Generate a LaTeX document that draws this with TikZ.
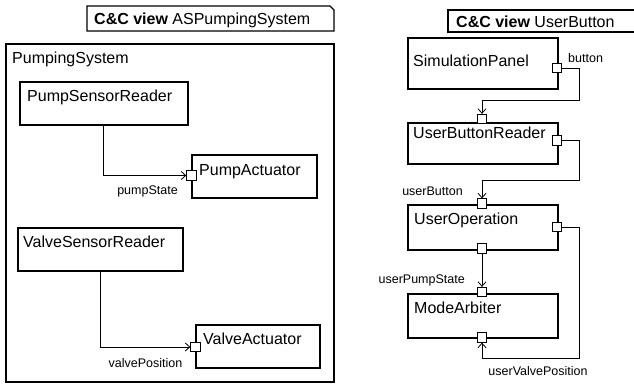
\documentclass[tikz,border=0pt]{standalone}
\usepackage{fontspec}
\setmainfont{Liberation Sans}
\usetikzlibrary{arrows.meta}
\begin{document}
\begin{tikzpicture}[x=1pt,y=-1pt,
  comp/.style={draw,line width=1.6pt,inner sep=0pt,anchor=north west},
  ctext/.style={anchor=base west,inner sep=0pt,font=\fontsize{16}{19}\selectfont},
  lbl/.style={inner sep=0pt,font=\fontsize{12.5}{15}\selectfont},
  port/.style={draw,fill=white,line width=0.8pt,minimum size=9.5pt,inner sep=0pt},
  conn/.style={line width=0.8pt,-{Straight Barb[length=4.5pt,width=8pt,line width=0.8pt]}},
  ttl/.style={line width=1.4pt}]
\useasboundingbox (0,0) rectangle (634,383);

% ---- left view ----
\draw[ttl] (87,6) -- (330,6) -- (334,10) -- (334,31) -- (87,31) -- cycle;
\node[anchor=base west,inner sep=0pt,font=\fontsize{16}{19}\selectfont] (t1) at (94,24) {\textbf{C\&C view} ASPumpingSystem};

\node[comp,minimum width=328pt,minimum height=338pt] (sys) at (5,43) {};
\node[ctext] (sysl) at (12,63) {PumpingSystem};

\node[comp,minimum width=168pt,minimum height=43pt] (psr) at (19,81) {};
\node[ctext] (psrl) at (27,101) {PumpSensorReader};

\node[comp,minimum width=125pt,minimum height=43pt] (pa) at (191,154) {};
\node[ctext] (pal) at (199,175) {PumpActuator};
\node[port] (pap) at (191.5,175.5) {};

\node[comp,minimum width=165pt,minimum height=43pt] (vsr) at (17,227) {};
\node[ctext] (vsrl) at (23,247) {ValveSensorReader};

\node[comp,minimum width=124pt,minimum height=43pt] (va) at (195,324) {};
\node[ctext] (val) at (203,344) {ValveActuator};
\node[port] (vap) at (195.5,347) {};

\draw[conn] (psr.south) |- (pap.west);
\draw[conn] (vsr.south) |- (vap.west);
\node[lbl] (l1) at (147.5,191) {pumpState};
\node[lbl] (l2) at (145.5,363) {valvePosition};

% ---- right view ----
\draw[ttl] (640,10) -- (448,10) -- (448,32) -- (640,32);
\node[anchor=base west,inner sep=0pt,font=\fontsize{16}{19}\selectfont] (t2) at (456,27) {\textbf{C\&C view} UserButton};

\node[comp,minimum width=150pt,minimum height=51pt] (sp) at (407,37) {};
\node[ctext] (spl) at (413,66) {SimulationPanel};
\node[port] (spr) at (557,68) {};

\node[comp,minimum width=150pt,minimum height=41pt] (ubr) at (407,122) {};
\node[ctext] (ubrl) at (413,138) {UserButtonReader};
\node[port] (ubt) at (482,119) {};
\node[port] (ubrp) at (557,140.5) {};

\node[comp,minimum width=150pt,minimum height=45pt] (uo) at (407,204) {};
\node[ctext] (uol) at (414,224) {UserOperation};
\node[port] (uot) at (482,203.5) {};
\node[port] (uor) at (557,227) {};
\node[port] (uob) at (482,248.5) {};

\node[comp,minimum width=150pt,minimum height=44pt] (ma) at (407,293) {};
\node[ctext] (mal) at (414,313) {ModeArbiter};
\node[port] (mat) at (482,292) {};
\node[port] (mab) at (482,337.5) {};

\coordinate (b1) at (579,100);
\coordinate (b2) at (579,180);
\coordinate (b3) at (579,358);
\draw[conn] (spr.east) -| (b1) -| (ubt.north);
\draw[conn] (ubrp.east) -| (b2) -| (uot.north);
\draw[conn] (uob.south) -- (mat.north);
\draw[conn] (uor.east) -| (b3) -| (mab.south);

\node[lbl,anchor=west] (l3) at (568,58) {button};
\node[lbl] (l4) at (432.5,191) {userButton};
\node[lbl,anchor=east] (l5) at (465,280) {userPumpState};
\node[lbl] (l6) at (538,371) {userValvePosition};
\end{tikzpicture}
\end{document}
